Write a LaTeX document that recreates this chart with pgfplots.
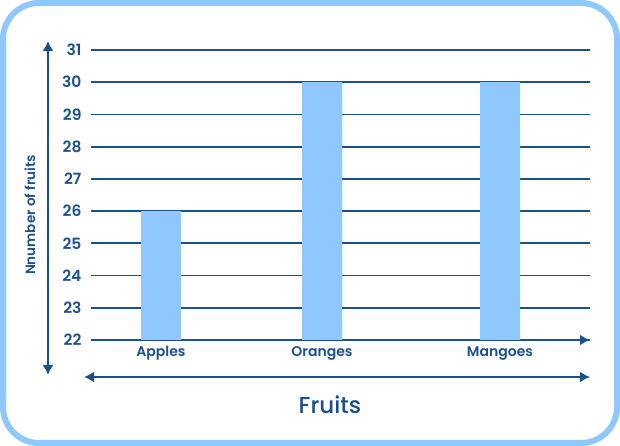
\documentclass[border=0pt]{standalone}
\usepackage{pgfplots}
\pgfplotsset{compat=1.18}
\usepackage{fontspec}
\setmainfont{Poppins}[UprightFont={* Medium}, BoldFont={* SemiBold}]
\usetikzlibrary{arrows.meta}
\definecolor{navy}{RGB}{28,80,140}
\definecolor{barblue}{RGB}{142,200,255}
\begin{document}
\begin{tikzpicture}[x=1pt,y=1pt]
\path (0,0) rectangle (620,446);
\draw[barblue, line width=6pt, rounded corners=36pt] (3,3) rectangle (617,443);
\begin{axis}[
  at={(91pt,106pt)}, anchor=south west,
  scale only axis, width=499pt, height=290pt,
  xmin=91, xmax=590, ymin=22, ymax=31,
  axis x line=bottom, axis y line=left,
  x axis line style={navy, line width=1.8pt, -{Latex[length=10pt,width=11pt]}},
  y axis line style={draw=none},
  ymajorgrids, grid style={navy, line width=1.8pt},
  ytick={22,...,31},
  xtick={161,322,500},
  xticklabels={Apples,Oranges,Mangoes},
  major tick length=0pt,
  /pgf/number format/assume math mode=true,
  yticklabel style={navy, anchor=east, xshift=-6pt, font=\fontsize{15.5}{16}\selectfont\bfseries},
  xticklabel style={navy, font=\fontsize{14}{14}\selectfont\bfseries, yshift=-3pt},
]
\addplot[ybar, bar width=40pt, fill=barblue, draw=none] coordinates {(161,26) (322,30) (500,30)};
\end{axis}
\draw[navy, line width=1.8pt, {Latex[length=10pt,width=11pt]}-{Latex[length=10pt,width=11pt]}] (48,71) -- (48,405);
\draw[navy, line width=1.8pt, {Latex[length=10pt,width=11pt]}-{Latex[length=10pt,width=11pt]}] (84,69) -- (590,69);
\node[navy, font=\fontsize{23}{23}\selectfont] at (330,41) {Fruits};
\node[navy, rotate=90, font=\fontsize{13.5}{13.5}\selectfont\bfseries] at (30,231) {Nnumber of fruits};
\end{tikzpicture}
\end{document}
